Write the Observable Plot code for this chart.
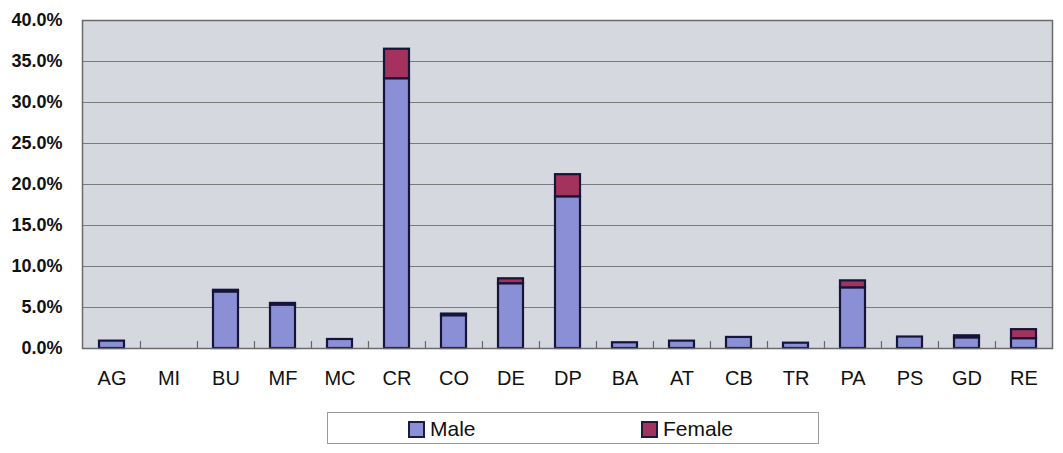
<!DOCTYPE html>
<html>
<head>
<meta charset="utf-8">
<script src="https://cdn.jsdelivr.net/npm/d3@7"></script>
<script src="https://cdn.jsdelivr.net/npm/@observablehq/plot@0.6"></script>
<style>
  html, body { margin: 0; padding: 0; background: #ffffff; }
  #wrap { position: relative; width: 1063px; height: 453px; font-family: "Liberation Sans", Arial, sans-serif; }
  #legend { position: absolute; left: 327px; top: 412px; width: 492px; height: 32px; border: 1px solid #9a9a9a; box-sizing: border-box; background: #fff; }
  .item { position: absolute; top: 4px; display: flex; align-items: center; font-size: 21px; color: #111; }
  .sw { width: 17px; height: 17px; border: 2px solid #1c1c40; box-sizing: border-box; margin-right: 5px; }
</style>
</head>
<body>
<div id="wrap">
  <div id="chart"></div>
  <div id="legend"></div>
</div>
<script>
const categories = ["AG","MI","BU","MF","MC","CR","CO","DE","DP","BA","AT","CB","TR","PA","PS","GD","RE"];
const maleValues   = [0.9, 0, 6.9, 5.3, 1.1, 32.9, 4.0, 7.9, 18.5, 0.7, 0.9, 1.35, 0.65, 7.4, 1.4, 1.3, 1.2];
const femaleValues = [0,   0, 0.2, 0.2, 0,    3.6, 0.2, 0.6,  2.7, 0,   0,   0,    0,    0.85, 0,  0.25, 1.1];
const series = ["Male", "Female"];
const seriesColors = ["#8b8fd6", "#a3325c"];
const yTicks = [0, 0.05, 0.10, 0.15, 0.20, 0.25, 0.30, 0.35, 0.40];

const rows = [];
categories.forEach((c, i) => {
  if (maleValues[i] > 0) rows.push({cat: c, sex: "Male", v: maleValues[i] / 100});
  if (femaleValues[i] > 0) rows.push({cat: c, sex: "Female", v: femaleValues[i] / 100});
});

const W = 1063, H = 405, ML = 82, MR = 11, MT = 20, MB = 57;
const step = (W - ML - MR) / categories.length;
const pad = 0.57;

const chart = Plot.plot({
  width: W, height: H,
  marginLeft: ML, marginRight: MR, marginTop: MT, marginBottom: MB,
  style: {fontFamily: "'Liberation Sans', Arial, sans-serif", background: "transparent", overflow: "visible"},
  x: {domain: categories, paddingInner: pad, paddingOuter: pad / 2, label: null},
  y: {domain: [0, 0.40], label: null},
  color: {domain: series, range: seriesColors},
  marks: [
    Plot.frame({fill: "#d6d8df", stroke: "none"}),
    Plot.gridY(yTicks, {stroke: "#7a7a7a", strokeOpacity: 1, strokeWidth: 1.2}),
    Plot.ruleX(categories.slice(1), {x: d => d, y1: 0, y2: 0.0085, dx: -step / 2, stroke: "#666", strokeWidth: 1.2}),
    Plot.barY(rows, Plot.stackY({order: series, x: "cat", y: "v", fill: "sex", stroke: "#15153a", strokeWidth: 2.2})),
    Plot.frame({stroke: "#6a6a6a", strokeWidth: 1.5}),
    Plot.axisY({ticks: yTicks, tickFormat: d3.format(".1%"), tickSize: 0, tickPadding: 20, fontSize: 18, fontWeight: "bold", fill: "#111", label: null}),
    Plot.axisX({tickSize: 0, tickPadding: 22, fontSize: 20, fill: "#111", label: null})
  ]
});
document.getElementById("chart").appendChild(chart);

const legend = document.getElementById("legend");
const legendX = [80, 313];
series.forEach((s, i) => {
  const it = document.createElement("div");
  it.className = "item";
  it.style.left = legendX[i] + "px";
  const sw = document.createElement("div");
  sw.className = "sw";
  sw.style.background = seriesColors[i];
  const t = document.createElement("span");
  t.textContent = s;
  it.appendChild(sw); it.appendChild(t);
  legend.appendChild(it);
});
</script>
</body>
</html>
